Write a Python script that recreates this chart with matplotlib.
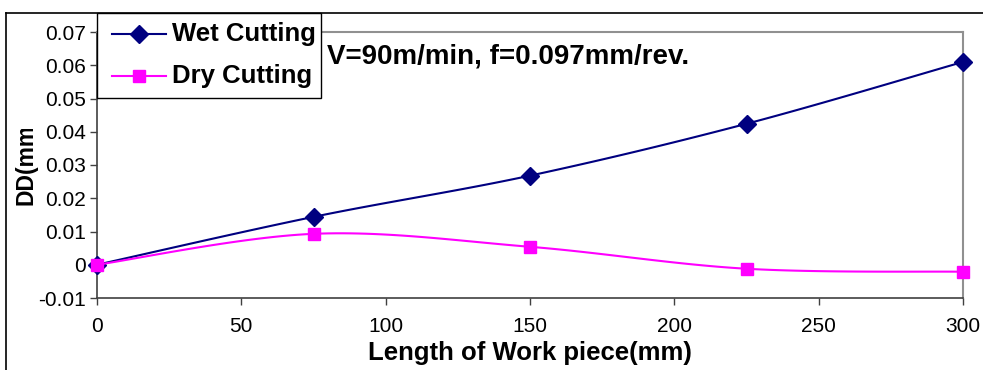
import numpy as np
import matplotlib
matplotlib.use("Agg")
import matplotlib.pyplot as plt
from matplotlib.lines import Line2D
from matplotlib.patches import Rectangle

plt.rcParams['font.family'] = ['Liberation Sans', 'DejaVu Sans']

x_len = [0, 75, 150, 225, 300]
wet = [0.0, 0.0144, 0.0268, 0.0424, 0.0610]
dry = [0.0, 0.0093, 0.0054, -0.0012, -0.0021]
xticks = [0, 50, 100, 150, 200, 250, 300]
yticks = [-0.01, 0, 0.01, 0.02, 0.03, 0.04, 0.05, 0.06, 0.07]
ytick_labels = ['-0.01', '0', '0.01', '0.02', '0.03', '0.04', '0.05', '0.06', '0.07']
series_names = ['Wet Cutting', 'Dry Cutting']

W, H = 983, 370
fig = plt.figure(figsize=(W / 100, H / 100), dpi=100)
ax = fig.add_axes([97 / W, 1 - 298 / H, (963 - 97) / W, (298 - 32) / H])
ax.set_xlim(0, 300)
ax.set_ylim(-0.01, 0.07)


def smooth(xs, ys, n=30):
    pts = ax.transData.transform(np.column_stack([xs, ys]))
    P = np.vstack([pts[0], pts, pts[-1]])
    out = []
    for i in range(1, len(P) - 2):
        p0, p1, p2, p3 = P[i - 1], P[i], P[i + 1], P[i + 2]
        c1 = p1 + (p2 - p0) / 6.0
        c2 = p2 - (p3 - p1) / 6.0
        t = np.linspace(0, 1, n)[:, None]
        seg = ((1 - t) ** 3) * p1 + 3 * ((1 - t) ** 2) * t * c1 + 3 * (1 - t) * t ** 2 * c2 + t ** 3 * p2
        out.append(seg if i == 1 else seg[1:])
    out = np.vstack(out)
    return ax.transData.inverted().transform(out)

navy = '#000080'
mag = '#FF00FF'
sw = smooth(x_len, wet)
sd = smooth(x_len, dry)
ax.plot(sw[:, 0], sw[:, 1], color=navy, lw=1.5, zorder=3, clip_on=False)
ax.plot(x_len, wet, ls='none', marker='D', ms=9, color=navy, zorder=4, clip_on=False)
ax.plot(sd[:, 0], sd[:, 1], color=mag, lw=1.5, zorder=5, clip_on=False)
ax.plot(x_len, dry, ls='none', marker='s', ms=8.5, color=mag, zorder=6, clip_on=False)

ax.set_xticks(xticks)
ax.set_yticks(yticks)
ax.set_yticklabels(ytick_labels)
ax.tick_params(direction='out', length=5, width=1, labelsize=15, color='#404040', pad=3)
ax.tick_params(axis='x', pad=9)
for s in ['left', 'bottom']:
    ax.spines[s].set_color('#404040')
    ax.spines[s].set_linewidth(1.2)
for s in ['top', 'right']:
    ax.spines[s].set_color('#909090')
    ax.spines[s].set_linewidth(1.5)

fig.text(530 / W, 1 - 353 / H, 'Length of Work piece(mm)', ha='center', va='center',
         fontsize=18.5, fontweight='bold')
fig.text(327 / W, 1 - 64 / H, 'V=90m/min, f=0.097mm/rev.', ha='left', va='baseline',
         fontsize=20, fontweight='bold')

fig.text(26 / W, 1 - 205 / H, 'DD(mm)', ha='center', va='bottom', rotation=90,
         fontsize=16.5, fontweight='bold')
# Excel truncated the axis title; hide the cut-off part
fig.add_artist(Rectangle((8 / W, 1 - 129 / H), 34 / W, 40 / H, transform=fig.transFigure,
                         facecolor='white', edgecolor='none', zorder=5))

# outer frame (top and left)
fig.add_artist(Line2D([6 / W, 6 / W], [0, 1 - 13 / H], color='black', lw=1.2, zorder=6))
fig.add_artist(Line2D([6 / W, 1], [1 - 13 / H, 1 - 13 / H], color='black', lw=1.2, zorder=6))

# legend box
fig.add_artist(Rectangle((97 / W, 1 - 98 / H), (321 - 97) / W, (98 - 13) / H,
                         transform=fig.transFigure, facecolor='white',
                         edgecolor='black', lw=1.0, zorder=10))
styles = [(navy, 'D', 9), (mag, 's', 8.5)]
rows = [34, 76]
for name, (c, m, ms), ry in zip(series_names, styles, rows):
    yy = 1 - ry / H
    fig.add_artist(Line2D([112 / W, 166 / W], [yy, yy], color=c, lw=1.5, zorder=11))
    fig.add_artist(Line2D([139 / W], [yy], color=c, marker=m, ms=ms, ls='none', zorder=12))
    fig.text(172 / W, yy, name, ha='left', va='center', fontsize=18.5,
             fontweight='bold', zorder=12)

fig.savefig('out.png', dpi=100)
